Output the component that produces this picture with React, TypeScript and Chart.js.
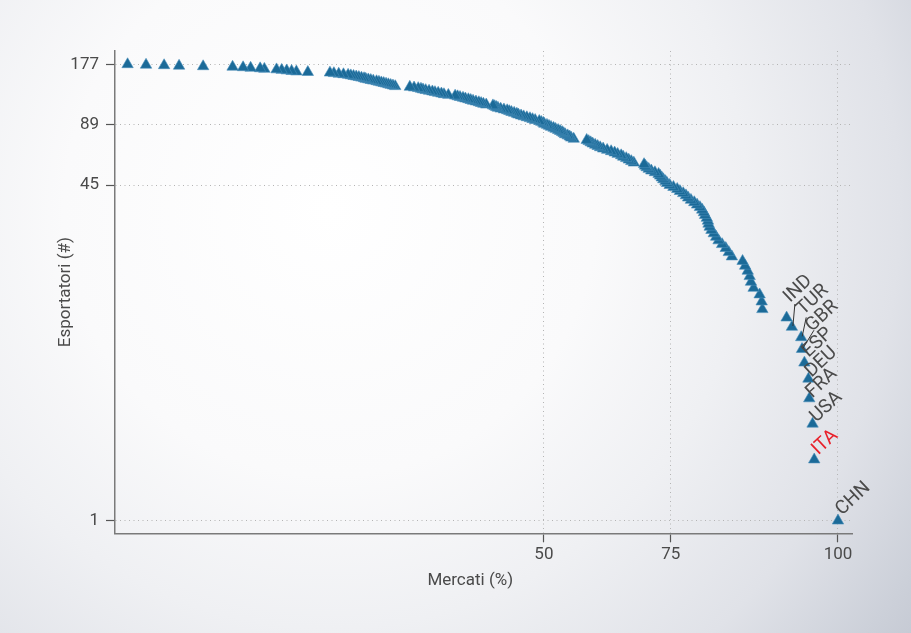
import React, { useEffect, useRef } from 'react';
import { Chart, registerables } from 'chart.js';

Chart.register(...registerables);

// Share of destination markets reached (%), exporters ordered by rank (1 = most markets)
const MARKET_SHARE: number[] = [
  100, 97.3, 97.1, 96.7, 96.6, 96.1, 95.8, 95.7, 94.5, 93.8,
  90.4, 90.3, 90.0, 89.1, 88.7, 88.5, 88.2, 87.8, 87.4, 85.7,
  85.2, 84.7, 84.1, 83.5, 83.1, 82.7, 82.3, 82.0, 81.8, 81.7,
  81.5, 81.2, 81.0, 80.7, 80.3, 79.8, 79.3, 78.7, 78.2, 77.8,
  77.3, 76.7, 76.2, 75.5, 74.8, 74.3, 74.0, 73.6, 73.3, 73.0,
  72.7, 72.0, 71.3, 70.8, 70.4, 70.1, 69.9, 67.9, 67.4, 66.9,
  66.4, 65.8, 65.4, 64.7, 64.1, 63.4, 62.6, 61.8, 61.2, 60.7,
  60.2, 59.7, 59.3, 58.9, 58.5, 55.9, 55.4, 55.1, 54.7, 54.2,
  53.9, 53.6, 53.2, 52.8, 52.3, 51.9, 51.4, 51.0, 50.6, 50.1,
  49.9, 49.5, 49.1, 48.3, 47.8, 47.3, 46.7, 46.1, 45.6, 45.1,
  44.8, 44.3, 43.8, 43.4, 43.0, 42.4, 41.8, 41.3, 41.0, 40.7,
  40.4, 39.2, 38.7, 38.3, 37.9, 37.4, 36.9, 36.5, 36.1, 35.6,
  35.2, 34.7, 34.3, 33.9, 32.8, 32.1, 31.7, 31.2, 30.7, 30.3,
  29.8, 29.3, 28.9, 28.6, 28.2, 27.6, 27.0, 25.0, 24.7, 24.4,
  24.1, 23.8, 23.5, 23.2, 22.9, 22.6, 22.2, 21.9, 21.6, 21.3,
  21.1, 20.8, 20.5, 20.2, 19.9, 19.6, 19.3, 18.8, 18.3, 17.8,
  17.4, 15.3, 14.3, 13.9, 13.5, 13.1, 12.7, 11.8, 11.5, 10.85,
  10.36, 9.71, 8.08, 6.94, 6.31, 5.62, 4.99,
];

// Country codes of the first exporters in the ranking (rank 1, 2, 3, ...)
const LABEL_CODES: string[] = ['CHN', 'ITA', 'USA', 'FRA', 'DEU', 'ESP', 'GBR', 'TUR', 'IND'];
const HIGHLIGHT_CODE = 'ITA';

const X_TICKS: number[] = [50, 75, 100];
const Y_TICKS: number[] = [1, 45, 89, 177];

const X_TITLE = 'Mercati (%)';
const Y_TITLE = 'Esportatori (#)';

// Axis limits
const X_LIMITS: [number, number] = [4.6, 101.46];
const Y_LIMITS: [number, number] = [0.867, 206];

// Logit-type transform of the market share axis
const LOGIT_DEN = 119;
const toAxis = (p: number) => Math.log(p / (LOGIT_DEN - p));

// Label placement (pixel offsets from the point), kept apart from the data
const LABEL_LAYOUT: Record<string, { dx: number; dy: number; leader?: [number, number] }> = {
  CHN: { dx: 4, dy: -5 },
  ITA: { dx: 4, dy: -4 },
  USA: { dx: 4, dy: -1 },
  FRA: { dx: 3, dy: 0 },
  DEU: { dx: 3, dy: -1 },
  ESP: { dx: 4, dy: -5 },
  GBR: { dx: 10, dy: -17, leader: [12, -19] },
  TUR: { dx: 2, dy: -22, leader: [5, -20] },
  IND: { dx: -2, dy: -24, leader: [3, -23] },
};

const FONT = 'Roboto, "Noto Sans", sans-serif';
const TEXT_COLOR = '#4a4a4a';
const POINT_COLOR = '#1b6a98';

const backgroundPlugin = {
  id: 'bgGradient',
  beforeDraw(chart: any) {
    const { ctx, width, height } = chart;
    ctx.save();
    const g = ctx.createRadialGradient(330, 210, 0, 330, 210, 760);
    g.addColorStop(0, '#ffffff');
    g.addColorStop(0.35, '#fafafb');
    g.addColorStop(0.55, '#eff0f3');
    g.addColorStop(0.75, '#e0e2e8');
    g.addColorStop(0.9, '#ccd0d9');
    g.addColorStop(1, '#c0c4cf');
    ctx.fillStyle = g;
    ctx.fillRect(0, 0, width, height);
    ctx.restore();
  },
};

const textPlugin = {
  id: 'textLayer',
  afterDraw(chart: any) {
    const { ctx, chartArea } = chart;
    ctx.save();
    // axis titles
    ctx.fillStyle = TEXT_COLOR;
    ctx.font = `17px ${FONT}`;
    ctx.textAlign = 'center';
    ctx.textBaseline = 'middle';
    ctx.fillText(X_TITLE, chartArea.left + (chartArea.right - chartArea.left) * 0.482, chartArea.bottom + 47);
    ctx.save();
    ctx.translate(chartArea.left - 49, (chartArea.top + chartArea.bottom) / 2);
    ctx.rotate(-Math.PI / 2);
    ctx.fillText(Y_TITLE, 0, 0);
    ctx.restore();

    // country labels
    const meta = chart.getDatasetMeta(0);
    ctx.font = `19px ${FONT}`;
    ctx.textAlign = 'left';
    ctx.textBaseline = 'alphabetic';
    LABEL_CODES.forEach((code, i) => {
      const el = meta.data[i];
      if (!el) return;
      const lay = LABEL_LAYOUT[code] || { dx: 3, dy: 0 };
      if (lay.leader) {
        ctx.strokeStyle = '#333333';
        ctx.lineWidth = 1;
        ctx.beginPath();
        ctx.moveTo(el.x + 1, el.y - 1);
        ctx.lineTo(el.x + lay.leader[0], el.y + lay.leader[1]);
        ctx.stroke();
      }
      ctx.save();
      ctx.translate(el.x + lay.dx, el.y + lay.dy);
      ctx.rotate((-43 * Math.PI) / 180);
      ctx.fillStyle = code === HIGHLIGHT_CODE ? '#e8202a' : TEXT_COLOR;
      ctx.fillText(code, 0, 0);
      ctx.restore();
    });
    ctx.restore();
  },
};

export default function App() {
  const canvasRef = useRef<HTMLCanvasElement | null>(null);

  useEffect(() => {
    document.body.style.margin = '0';
    const canvas = canvasRef.current;
    if (!canvas) return;

    const points = MARKET_SHARE.map((share, i) => ({ x: toAxis(share), y: i + 1 }));

    const chart = new Chart(canvas, {
      type: 'scatter',
      data: {
        datasets: [
          {
            data: points,
            pointStyle: 'triangle',
            pointRadius: 6.6,
            pointHoverRadius: 6.6,
            backgroundColor: POINT_COLOR,
            borderColor: '#4a8fbb',
            borderWidth: 0.6,
          },
        ],
      },
      options: {
        animation: false,
        responsive: false,
        devicePixelRatio: 1,
        events: [],
        layout: { padding: { left: 0, top: 51, right: 59, bottom: 0 } },
        plugins: {
          legend: { display: false },
          tooltip: { enabled: false },
          title: { display: false },
        },
        scales: {
          x: {
            type: 'linear',
            min: toAxis(X_LIMITS[0]),
            max: toAxis(X_LIMITS[1]),
            afterFit: (scale: any) => {
              scale.height = 99.7;
            },
            afterBuildTicks: (scale: any) => {
              scale.ticks = X_TICKS.map((v) => ({ value: toAxis(v) }));
            },
            ticks: {
              callback: (_v: any, i: number) => String(X_TICKS[i]),
              color: TEXT_COLOR,
              font: { family: FONT, size: 17 },
              padding: 2,
              maxRotation: 0,
              autoSkip: false,
            },
            grid: {
              color: '#b4b4b4',
              lineWidth: 1,
              drawTicks: true,
              tickLength: 9,
              tickColor: '#555555',
              tickWidth: 1.2,
            },
            border: { display: true, color: '#7a7a7a', width: 1.5, dash: [1, 3.5] },
          },
          y: {
            type: 'logarithmic',
            min: Y_LIMITS[0],
            max: Y_LIMITS[1],
            afterFit: (scale: any) => {
              scale.width = 115;
            },
            afterBuildTicks: (scale: any) => {
              scale.ticks = Y_TICKS.map((v) => ({ value: v }));
            },
            ticks: {
              callback: (_v: any, i: number) => String(Y_TICKS[i]),
              color: TEXT_COLOR,
              font: { family: FONT, size: 17 },
              padding: 7,
              autoSkip: false,
            },
            grid: {
              color: '#b4b4b4',
              lineWidth: 1,
              drawTicks: true,
              tickLength: 9,
              tickColor: '#555555',
              tickWidth: 1.2,
            },
            border: { display: true, color: '#7a7a7a', width: 1.5, dash: [1, 3.5] },
          },
        },
      },
      plugins: [backgroundPlugin, textPlugin],
    } as any);

    return () => {
      chart.destroy();
    };
  }, []);

  return (
    <div style={{ width: 911, height: 633 }}>
      <canvas ref={canvasRef} width={911} height={633} style={{ display: 'block' }} />
    </div>
  );
}
